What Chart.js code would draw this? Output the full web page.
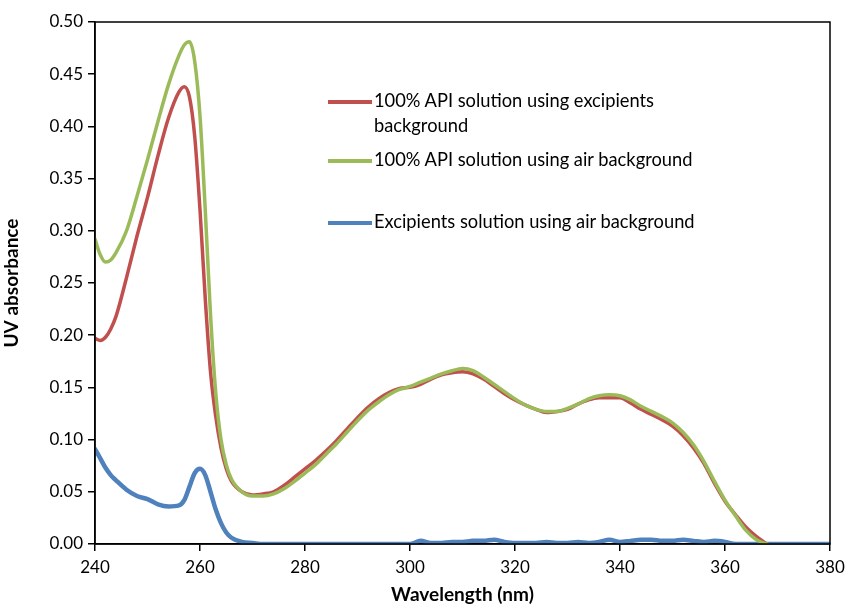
<!DOCTYPE html>
<html>
<head>
<meta charset="utf-8">
<script src="https://cdn.jsdelivr.net/npm/chart.js@4/dist/chart.umd.min.js"></script>
<style>
  html, body { margin: 0; padding: 0; background: #fff; }
  #wrap { position: relative; width: 846px; height: 607px; }
  #legend { position: absolute; left: 328px; top: 88px; font-family: Lato, sans-serif; font-size: 18.3px; color: #000; }
  .item { position: absolute; left: 0; white-space: nowrap; line-height: 25px; }
  .swatch { position: absolute; left: 0; top: 12px; width: 44px; height: 4px; }
  .label { position: absolute; left: 46px; top: 0; }
</style>
</head>
<body>
<div id="wrap">
  <canvas id="chart" width="846" height="607"></canvas>
  <div id="legend"></div>
</div>
<script>
// Longitudes de onda (nm)
const wavelengths = [240,241,242,243,244,246,248,250,252,254,256,257,258,259,260,261,262,263,264,265,266,268,270,272,274,276,278,280,282,284,286,288,290,292,294,296,298,300,302,304,306,308,310,312,314,316,318,320,322,324,326,328,330,332,334,336,338,340,342,344,346,348,350,352,354,356,358,360,362,364,366,368,370,375,380];

const apiExcipients = [0.197,0.195,0.198,0.206,0.218,0.255,0.295,0.332,0.372,0.408,0.433,0.438,0.428,0.390,0.320,0.235,0.165,0.122,0.092,0.072,0.060,0.050,0.047,0.048,0.050,0.056,0.064,0.072,0.080,0.089,0.099,0.110,0.121,0.131,0.139,0.145,0.149,0.150,0.153,0.158,0.162,0.164,0.165,0.163,0.158,0.151,0.144,0.138,0.133,0.129,0.126,0.127,0.129,0.134,0.138,0.140,0.140,0.140,0.135,0.129,0.124,0.119,0.113,0.104,0.092,0.077,0.058,0.041,0.028,0.016,0.007,0.000,null,null,null];

const apiAir = [0.292,0.277,0.270,0.272,0.279,0.300,0.333,0.368,0.405,0.440,0.468,0.478,0.481,0.462,0.410,0.320,0.220,0.145,0.100,0.076,0.062,0.050,0.046,0.046,0.048,0.053,0.060,0.068,0.076,0.086,0.096,0.107,0.118,0.128,0.136,0.143,0.148,0.151,0.155,0.159,0.163,0.166,0.168,0.166,0.160,0.153,0.146,0.139,0.133,0.129,0.127,0.127,0.130,0.134,0.139,0.142,0.143,0.142,0.138,0.132,0.127,0.122,0.116,0.107,0.095,0.079,0.060,0.042,0.027,0.013,0.004,0.000,null,null,null];

const excipientsAir = [0.091,0.082,0.073,0.066,0.061,0.052,0.046,0.043,0.038,0.036,0.037,0.042,0.055,0.068,0.072,0.066,0.050,0.033,0.020,0.011,0.006,0.002,0.001,0,0,0,0,0,0,0,0,0,0,0,0,0,0,0,0.003,0.001,0.001,0.002,0.002,0.003,0.003,0.004,0.002,0.001,0.001,0.001,0.002,0.001,0.001,0.002,0.001,0.002,0.004,0.002,0.003,0.004,0.004,0.003,0.003,0.004,0.003,0.002,0.003,0.002,0,0,0,0,0,0,0];

const seriesNames = ['100% API solution using excipients background', '100% API solution using air background', 'Excipients solution using air background'];
const colors = { red: '#c0504d', green: '#9bbb59', blue: '#4f81bd' };

const toPoints = vals => wavelengths.map((x, i) => ({ x: x, y: vals[i] }));

// Marco completo alrededor del área del gráfico
const boxPlugin = {
  id: 'box',
  afterDraw(chart) {
    const a = chart.chartArea, ctx = chart.ctx;
    ctx.save();
    ctx.strokeStyle = '#000';
    ctx.lineWidth = 1.5;
    ctx.strokeRect(a.left, a.top, a.right - a.left, a.bottom - a.top);
    ctx.restore();
  }
};

const tickFont = { family: 'Lato, sans-serif', size: 17 };
const titleFont = { family: 'Lato, sans-serif', size: 19, weight: 'bold' };

new Chart(document.getElementById('chart'), {
  type: 'line',
  data: {
    datasets: [
      { label: seriesNames[0], data: toPoints(apiExcipients), borderColor: colors.red, borderWidth: 3.5, order: 1 },
      { label: seriesNames[1], data: toPoints(apiAir), borderColor: colors.green, borderWidth: 3.5, order: 0 },
      { label: seriesNames[2], data: toPoints(excipientsAir), borderColor: colors.blue, borderWidth: 4.5, order: 2 }
    ]
  },
  options: {
    responsive: false,
    animation: false,
    elements: { point: { radius: 0 }, line: { cubicInterpolationMode: 'monotone', borderCapStyle: 'round', borderJoinStyle: 'round' } },
    layout: { padding: { left: 0, right: 16, top: 22, bottom: 0 } },
    plugins: { legend: { display: false }, tooltip: { enabled: false } },
    scales: {
      x: {
        type: 'linear', min: 240, max: 380,
        ticks: { stepSize: 20, color: '#000', font: tickFont, padding: 6 },
        grid: { drawOnChartArea: false, drawTicks: true, tickLength: 7, color: '#000', lineWidth: 1.5 },
        border: { color: '#000', width: 1.5 },
        title: { display: true, text: 'Wavelength (nm)', color: '#000', font: titleFont, padding: { top: 0, bottom: 1 } },
        afterFit(scale) { scale.height = 63; scale.paddingRight = 0; }
      },
      y: {
        min: 0, max: 0.5,
        ticks: { stepSize: 0.05, color: '#000', font: tickFont, padding: 5, callback: v => v.toFixed(2) },
        grid: { drawOnChartArea: false, drawTicks: true, tickLength: 7, color: '#000', lineWidth: 1.5 },
        border: { color: '#000', width: 1.5 },
        title: { display: true, text: 'UV absorbance', color: '#000', font: titleFont, padding: { top: 0, bottom: 7 } },
        afterFit(scale) { scale.width = 95; }
      }
    }
  },
  plugins: [boxPlugin]
});

// Leyenda dentro del área del gráfico
const legendItems = [
  { lines: ['100% API solution using excipients', 'background'], color: colors.red, top: 0 },
  { lines: ['100% API solution using air background'], color: colors.green, top: 59 },
  { lines: ['Excipients solution using air background'], color: colors.blue, top: 121 }
];
const legend = document.getElementById('legend');
legendItems.forEach(it => {
  const div = document.createElement('div');
  div.className = 'item';
  div.style.top = it.top + 'px';
  div.innerHTML = `<div class="swatch" style="background:${it.color}"></div><div class="label">${it.lines.join('<br>')}</div>`;
  legend.appendChild(div);
});
</script>
</body>
</html>
